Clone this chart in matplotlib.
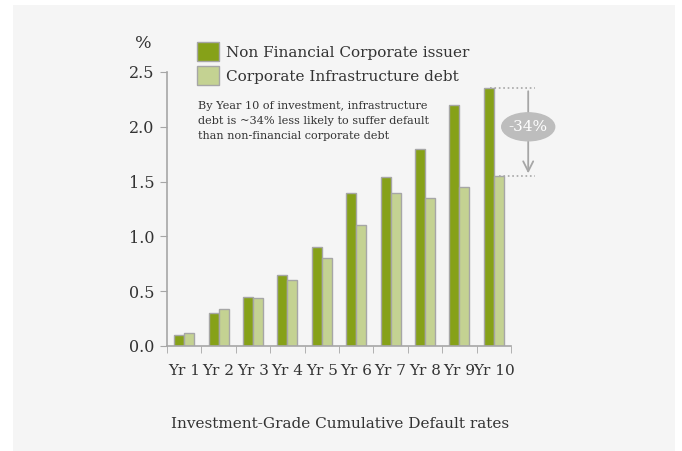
import numpy as np
import matplotlib.pyplot as plt
from matplotlib.patches import Rectangle, Ellipse

years = ['Yr 1', 'Yr 2', 'Yr 3', 'Yr 4', 'Yr 5', 'Yr 6', 'Yr 7', 'Yr 8', 'Yr 9', 'Yr 10']
non_financial = [0.10, 0.30, 0.45, 0.65, 0.90, 1.40, 1.54, 1.80, 2.20, 2.35]
infrastructure = [0.12, 0.34, 0.44, 0.60, 0.80, 1.10, 1.40, 1.35, 1.45, 1.55]
label_nf = 'Non Financial Corporate issuer'
label_inf = 'Corporate Infrastructure debt'
note = ('By Year 10 of investment, infrastructure\n'
        'debt is ~34% less likely to suffer default\n'
        'than non-financial corporate debt')
reduction = '-34%'

plt.rcParams['font.family'] = ['DejaVu Serif']
dark = '#86a118'
light = '#c4d292'
edge = '#a6a6a6'
txt = '#333333'

fig = plt.figure(figsize=(6.82, 4.51), dpi=100)
fig.patch.set_facecolor('white')
fig.patches.append(Rectangle((13 / 682, 0), 662 / 682, 446 / 451, transform=fig.transFigure,
                             facecolor='#f5f5f5', edgecolor='none', zorder=-5))

ax = fig.add_axes([167 / 682, 105 / 451, 344 / 682, 274 / 451])
ax.set_facecolor('none')
ax.set_zorder(2)

x = np.arange(len(years))
w = 0.29
ax.bar(x - w / 2, non_financial, w, color=dark, edgecolor=edge, linewidth=1, label=label_nf)
ax.bar(x + w / 2, infrastructure, w, color=light, edgecolor=edge, linewidth=1, label=label_inf)

ax.set_xlim(-0.5, len(years) - 0.5)
ax.set_ylim(0, 2.5)
ax.set_yticks([0, 0.5, 1.0, 1.5, 2.0, 2.5])
ax.set_yticklabels(['0.0', '0.5', '1.0', '1.5', '2.0', '2.5'], fontsize=11.5, color=txt)
ax.set_xticks(x)
ax.set_xticklabels(years, fontsize=11, color=txt)
ax.set_xticks(np.arange(-0.5, len(years)), minor=True)
ax.tick_params(axis='x', which='major', length=0, pad=13)
ax.tick_params(axis='x', which='minor', length=5, color=edge)
ax.tick_params(axis='y', length=5, color=edge, pad=4)
for s in ['top', 'right']:
    ax.spines[s].set_visible(False)
for s in ['left', 'bottom']:
    ax.spines[s].set_color(edge)
    ax.spines[s].set_linewidth(1.2)

leg = ax.legend(loc='upper left', bbox_to_anchor=(0.068, 1.13), frameon=False,
                fontsize=11, handlelength=1.5, handleheight=1.5, handletextpad=0.4,
                labelspacing=0.35, borderaxespad=0)
for t in leg.get_texts():
    t.set_color(txt)

ax.text(0.09, 0.895, note, transform=ax.transAxes, fontsize=8.1, color=txt,
        va='top', ha='left', linespacing=1.62)

# bracket showing the gap at year 10
top = non_financial[-1]
bot = infrastructure[-1]
xa = len(years) - 0.5 + 0.5
ax.plot([x[-1] - w / 2 + 0.02, xa + 0.2], [top, top], ls=':', color=edge, lw=1.2, clip_on=False)
ax.plot([x[-1] + w / 2, xa + 0.2], [bot, bot], ls=':', color=edge, lw=1.2, clip_on=False)
ax.annotate('', xy=(xa, bot), xytext=(xa, top), annotation_clip=False,
            arrowprops=dict(arrowstyle='->', color=edge, lw=1.3, mutation_scale=18))
mid = (top + bot) / 2 + 0.05
ax.add_patch(Ellipse((xa, mid), 1.54, 0.255, color='#bdbdbd', clip_on=False, zorder=3))
ax.text(xa, mid, reduction, color='white', fontsize=11, ha='center', va='center', zorder=4)

fig.text(135 / 682, 1 - 44 / 451, '%', fontsize=12.5, color=txt, ha='left', va='center')
fig.text(340 / 682, 1 - 424 / 451, 'Investment-Grade Cumulative Default rates',
         fontsize=11, color=txt, ha='center', va='center')

fig.savefig('out.png', dpi=100, facecolor=fig.get_facecolor())
